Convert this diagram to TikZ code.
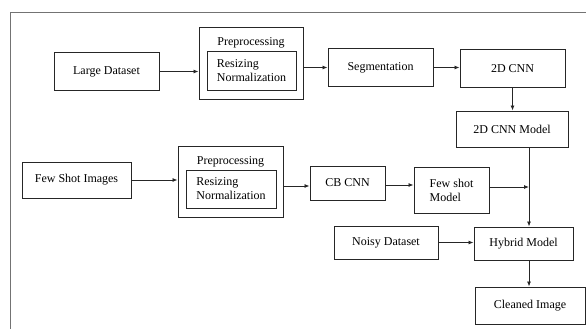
\documentclass[tikz,border=0pt]{standalone}
\usepackage{fontspec}
\setmainfont{Liberation Serif}
\usetikzlibrary{arrows.meta}
\begin{document}
\begin{tikzpicture}[x=1pt,y=-1pt,
  box/.style={draw=black!85, line width=1pt, inner sep=0pt, font=\fontsize{12}{14}\selectfont},
  lbl/.style={inner sep=0pt, font=\fontsize{12}{14}\selectfont},
  arr/.style={draw=black!85, line width=0.8pt, -{Latex[length=5pt,width=4pt]}}]
\useasboundingbox (0,0) rectangle (586,329);
\fill[white] (0,0) rectangle (586,329);
\draw[black!55, line width=1pt] (586,13) -- (10,13) -- (10,329);
% top row
\node[box, minimum width=105pt, minimum height=37pt] (ld) at (106.5,71.5) {Large Dataset};
\node[box, minimum width=104pt, minimum height=71pt] (pre1) at (251,63.5) {};
\node[lbl] (pre1t) at (251,43) {Preprocessing};
\node[box, minimum width=89pt, minimum height=38pt, align=left] (pre1i) at (251.5,71) {Resizing\\Normalization};
\node[box, minimum width=105pt, minimum height=37pt] (seg) at (380.5,67.5) {Segmentation};
\node[box, minimum width=105pt, minimum height=37pt] (cnn) at (512.5,68.5) {2D CNN};
\node[box, minimum width=112pt, minimum height=36pt] (cnnm) at (512,129) {2D CNN Model};
% middle row
\node[box, minimum width=109pt, minimum height=36pt] (fsi) at (76.5,180) {Few Shot Images};
\node[box, minimum width=105pt, minimum height=71pt] (pre2) at (230.5,181.5) {};
\node[lbl] (pre2t) at (230.5,162) {Preprocessing};
\node[box, minimum width=90pt, minimum height=38pt, align=left] (pre2i) at (231,189) {Resizing\\Normalization};
\node[box, minimum width=75pt, minimum height=34pt] (cb) at (347.5,183) {CB CNN};
\node[box, minimum width=75pt, minimum height=46pt, align=left] (fsm) at (451.5,190) {Few shot\\Model};
% bottom
\node[box, minimum width=104pt, minimum height=33pt] (noisy) at (386,242.5) {Noisy Dataset};
\node[box, minimum width=99pt, minimum height=33pt] (hyb) at (523.5,243.5) {Hybrid Model};
\node[box, minimum width=110pt, minimum height=37pt] (clean) at (530,305.5) {Cleaned Image};
\coordinate (vx) at (529,187);
% connectors
\draw[arr] (ld.east) -- (ld.east -| pre1.west);
\draw[arr] (pre1.east |- seg.west) -- (seg.west);
\draw[arr] (seg.east) -- (seg.east -| cnn.west);
\draw[arr] (cnn.south) -- (cnn.south |- cnnm.north);
\draw[arr] (cnnm.south -| vx) -- (hyb.north -| vx);
\draw[arr] (fsi.east) -- (fsi.east -| pre2.west);
\draw[arr] ([yshift=-3pt]pre2.east |- cb.west) -- ([yshift=-3pt]cb.west);
\draw[arr] ([yshift=-2pt]cb.east) -- ([yshift=-2pt]cb.east -| fsm.west);
\draw[arr] (fsm.east |- vx) -- (vx);
\draw[arr] (noisy.east) -- (noisy.east -| hyb.west);
\draw[arr] (hyb.south -| vx) -- (clean.north -| vx);
\end{tikzpicture}
\end{document}
